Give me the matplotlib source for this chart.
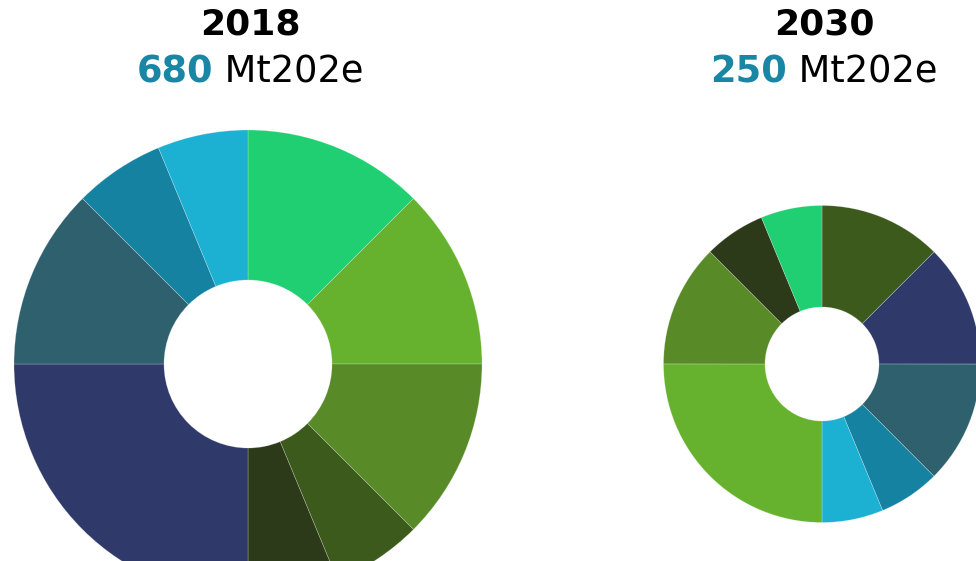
import matplotlib
matplotlib.use("Agg")
import matplotlib.pyplot as plt

# emission shares (Mt CO2e), clockwise from 12 o'clock
years = ["2018", "2030"]
totals = [680, 250]
values_2018 = [85, 85, 85, 42.5, 42.5, 170, 85, 42.5, 42.5]
colors_2018 = ["#1fcf72", "#66b22e", "#588b28", "#3c5a1c", "#2d3a1a",
               "#2f3a6a", "#2e606e", "#1682a2", "#1cb0d2"]
values_2030 = [31.25, 31.25, 31.25, 15.6, 15.6, 62.5, 31.25, 15.6, 15.6]
colors_2030 = ["#3c5a1c", "#2f3a6a", "#2e606e", "#1682a2", "#1cb0d2",
               "#66b22e", "#588b28", "#2d3a1a", "#1fcf72"]

W, H = 976, 561
fig = plt.figure(figsize=(W / 100, H / 100), dpi=100)
ax = fig.add_axes([0, 0, 1, 1])

font = "DejaVu Sans"
teal = "#1a86a6"

def donut(values, colors, cx, cy, r_out, r_in):
    ax.pie(values, colors=colors, startangle=90, counterclock=False,
           radius=r_out, center=(cx, H - cy),
           wedgeprops=dict(width=r_out - r_in, edgecolor=(1, 1, 1, 0.3),
                           linewidth=0.5))

donut(values_2018, colors_2018, 248, 364, 234, 84)
donut(values_2030, colors_2030, 822, 364, 158.5, 57)

ax.set_xlim(0, W)
ax.set_ylim(0, H)
ax.set_aspect("equal")
ax.axis("off")

renderer = fig.canvas.get_renderer()
for year, total, cx in zip(years, totals, [250, 824]):
    ax.text(cx, H - 20.5, year, ha="center", va="center_baseline", fontsize=26,
            fontweight="bold", family=font, color="black")
    t1 = ax.text(0, H - 67.5, f"{total}", ha="left", va="center_baseline",
                 fontsize=26.5, fontweight="bold", family=font, color=teal)
    t2 = ax.text(0, H - 67.5, " Mt202e", ha="left", va="center_baseline",
                 fontsize=26.5, family=font, color="black")
    w1 = t1.get_window_extent(renderer).width
    w2 = t2.get_window_extent(renderer).width
    x0 = cx - (w1 + w2) / 2
    t1.set_x(x0)
    t2.set_x(x0 + w1)

fig.savefig("out.png", dpi=100)
